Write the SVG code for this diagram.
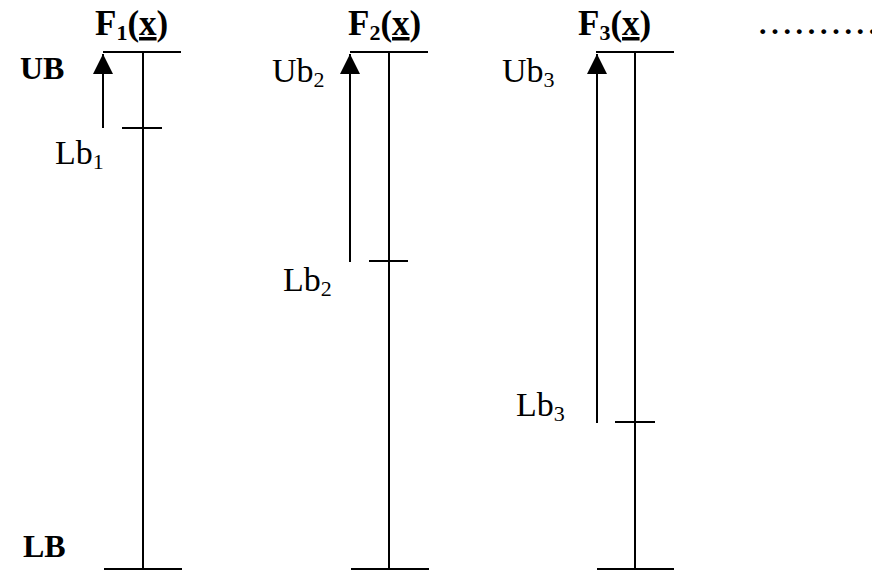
<svg xmlns="http://www.w3.org/2000/svg" width="872" height="571" viewBox="0 0 872 571">
  <defs>
    <style>
      .ln { stroke: #000; stroke-width: 2; fill: none; }
      .head { fill: #000; }
      .t { font-family: "Liberation Serif", "Times New Roman", serif; fill: #000; }
      .lbl { font-size: 34px; }
      .ttl { font-size: 35px; font-weight: bold; }
      .bnd { font-size: 32px; font-weight: bold; }
      .sub { font-size: 22px; }
      .dots { font-size: 30px; font-weight: bold; letter-spacing: 4.7px; }
    </style>
    <!-- filled triangular head; tip sits on the end of the line -->
    <marker id="arrow" viewBox="0 0 20 20" markerWidth="20" markerHeight="20" refX="20" refY="10" orient="auto" markerUnits="userSpaceOnUse">
      <path class="head" d="M0 0 L20 10 L0 20 Z"/>
    </marker>
  </defs>
  <rect width="872" height="571" fill="#fff"/>

  <!-- overall bound labels -->
  <text class="t bnd" x="20" y="79">UB</text>
  <text class="t bnd" x="23" y="557">LB</text>

  <!-- function F1 -->
  <g id="f1">
    <text class="t ttl" x="95" y="35">F<tspan class="sub" dy="5">1</tspan><tspan dy="-5">(</tspan><tspan text-decoration="underline">x</tspan>)</text>
    <line class="ln" x1="103" y1="52" x2="181" y2="52"/>
    <line class="ln" x1="143" y1="52" x2="143" y2="569"/>
    <line class="ln" x1="104" y1="569" x2="182" y2="569"/>
    <line class="ln" x1="122" y1="128" x2="162" y2="128"/>
    <text class="t lbl" x="55" y="164">Lb<tspan class="sub" dy="5">1</tspan></text>
  </g>

  <!-- function F2 -->
  <g id="f2">
    <text class="t ttl" x="348" y="35">F<tspan class="sub" dy="5">2</tspan><tspan dy="-5">(</tspan><tspan text-decoration="underline">x</tspan>)</text>
    <line class="ln" x1="350" y1="52" x2="428" y2="52"/>
    <line class="ln" x1="389" y1="52" x2="389" y2="569"/>
    <line class="ln" x1="351" y1="569" x2="429" y2="569"/>
    <line class="ln" x1="369" y1="261" x2="408" y2="261"/>
    <text class="t lbl" x="272" y="82">Ub<tspan class="sub" dy="5">2</tspan></text>
    <text class="t lbl" x="283" y="291">Lb<tspan class="sub" dy="5">2</tspan></text>
  </g>

  <!-- function F3 -->
  <g id="f3">
    <text class="t ttl" x="578" y="35">F<tspan class="sub" dy="5">3</tspan><tspan dy="-5">(</tspan><tspan text-decoration="underline">x</tspan>)</text>
    <line class="ln" x1="596" y1="52" x2="674" y2="52"/>
    <line class="ln" x1="635" y1="52" x2="635" y2="569"/>
    <line class="ln" x1="597" y1="569" x2="674" y2="569"/>
    <line class="ln" x1="615" y1="422" x2="655" y2="422"/>
    <text class="t lbl" x="502" y="82">Ub<tspan class="sub" dy="5">3</tspan></text>
    <text class="t lbl" x="516" y="416">Lb<tspan class="sub" dy="5">3</tspan></text>
  </g>

  <text class="t dots" x="759" y="34">..........</text>

  <!-- range arrows from each lower bound up to the upper bound -->
  <g id="connectors">
    <line class="ln" x1="103" y1="128" x2="103" y2="54" marker-end="url(#arrow)"/>
    <line class="ln" x1="350" y1="262" x2="350" y2="54" marker-end="url(#arrow)"/>
    <line class="ln" x1="597" y1="423" x2="597" y2="54" marker-end="url(#arrow)"/>
  </g>
</svg>
